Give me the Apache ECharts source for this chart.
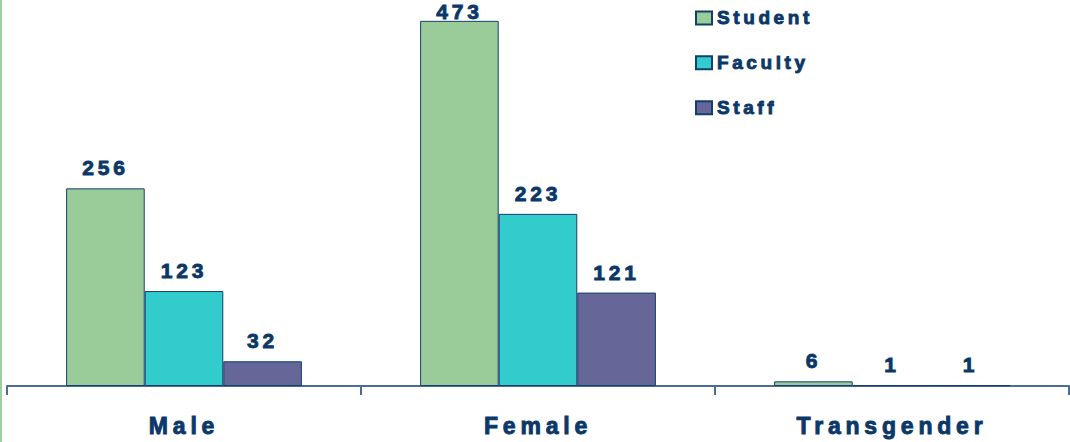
<!DOCTYPE html>
<html>
<head>
<meta charset="utf-8">
<title>Respondents by gender</title>
<script src="https://cdn.jsdelivr.net/npm/echarts@6/dist/echarts.min.js"></script>
<style>
  html, body { margin: 0; padding: 0; background: #ffffff; }
  #chart { width: 1070px; height: 442px; }
  /* widely tracked bold type */
  #chart text[style*="21px"] { letter-spacing: 3.8px; }
  #chart text[style*="23px"] { letter-spacing: 4.8px; }
  #chart text[style*="19px"] { letter-spacing: 3.6px; }
</style>
</head>
<body>
<div id="chart"></div>
<script>
const categories = ['Male', 'Female', 'Transgender'];
const seriesNames = ['Student', 'Faculty', 'Staff'];
const student = [256, 473, 6];
const faculty = [123, 223, 1];
const staff = [32, 121, 1];

const colors = ['#99CC99', '#33CCCC', '#666699'];
const ink = '#0B3868';
const fontFamily = '"Liberation Sans", Arial, sans-serif';

const values = [student, faculty, staff];
const yMax = 500;
const tallest = Math.max(...values.flat());

// heavier strokes on the text so it reads as a black-weight face
const heavy = { textBorderColor: ink, textBorderWidth: 0.9 };

const chart = echarts.init(document.getElementById('chart'), null, { renderer: 'svg' });

chart.setOption({
  animation: false,
  backgroundColor: '#ffffff',
  grid: { left: 7, right: 1, top: -1, bottom: 56, containLabel: false },
  graphic: [{
    type: 'rect',
    left: 0, top: 0,
    shape: { width: 2, height: 442 },
    style: { fill: '#9DD0A0' },
    silent: true
  }],
  legend: {
    orient: 'vertical',
    left: 695,
    top: 8,
    padding: 0,
    itemWidth: 16,
    itemHeight: 13,
    itemGap: 25,
    icon: 'rect',
    data: seriesNames,
    textStyle: Object.assign({ color: ink, fontSize: 19, fontWeight: 'bold', fontFamily: fontFamily }, heavy)
  },
  xAxis: {
    type: 'category',
    data: categories,
    axisLine: { show: true, lineStyle: { color: '#4A6D95', width: 2 } },
    axisTick: { show: true, length: 9, lineStyle: { color: '#4A6D95', width: 2 } },
    axisLabel: Object.assign({ color: ink, fontSize: 23, fontWeight: 'bold', fontFamily: fontFamily, margin: 28 }, heavy)
  },
  yAxis: {
    type: 'value',
    min: 0,
    max: yMax,
    show: false,
    splitLine: { show: false }
  },
  series: seriesNames.map((name, i) => ({
    name: name,
    type: 'bar',
    // the tallest bar's label sits snug on top so it stays inside the frame
    data: values[i].map(v => v === tallest
      ? { value: v, label: { distance: 1, lineHeight: 16 } }
      : v),
    barWidth: '22.2%',
    barGap: '0%',
    itemStyle: { color: colors[i], borderColor: '#123F6E', borderWidth: 1 },
    label: Object.assign({
      show: true,
      position: 'top',
      distance: 10,
      color: ink,
      fontSize: 21,
      fontWeight: 'bold',
      fontFamily: fontFamily
    }, heavy)
  }))
});
</script>
</body>
</html>
